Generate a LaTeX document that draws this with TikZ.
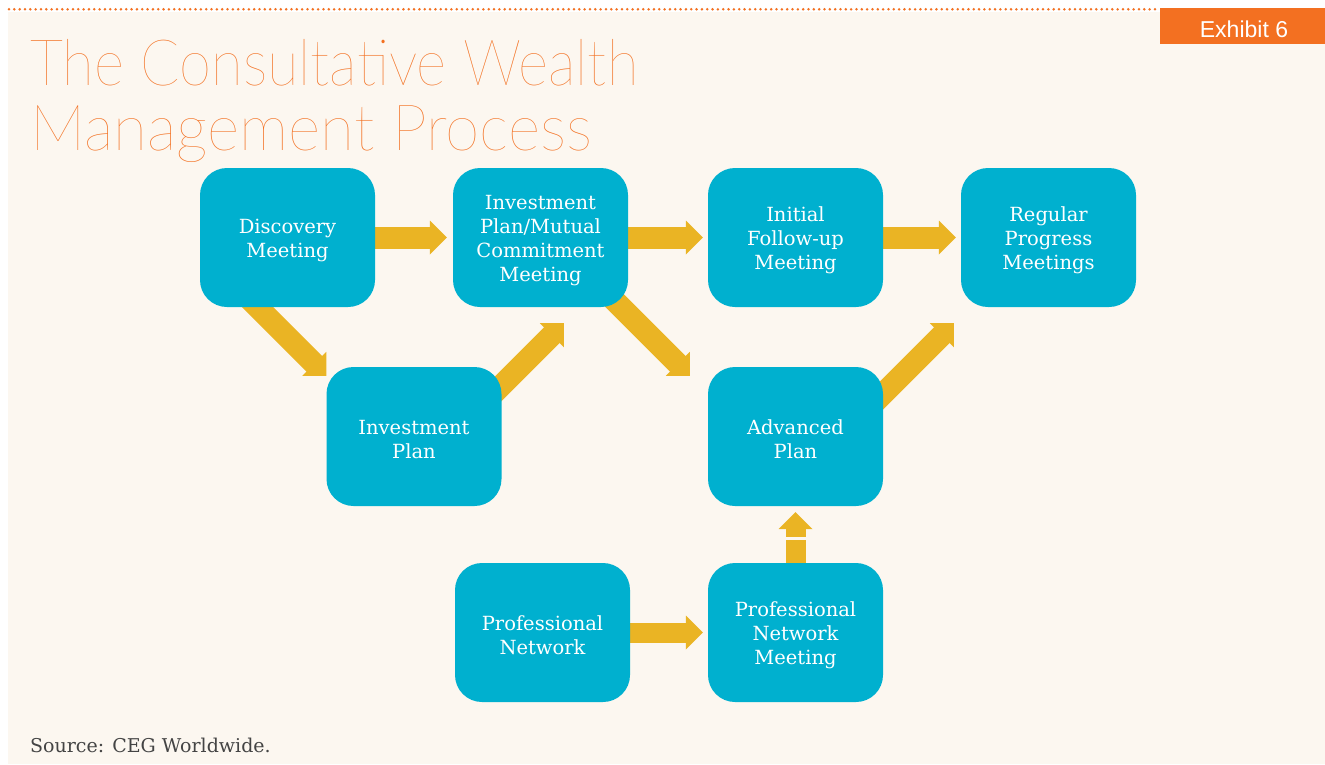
\documentclass[tikz,border=0pt]{standalone}
\usepackage{fontspec}
\setmainfont{DejaVu Serif}
\IfFontExistsTF{Lato Thin}{\newfontfamily\titlefont{Lato Thin}}{%
 \IfFontExistsTF{Fira Sans ExtraLight}{\newfontfamily\titlefont{Fira Sans ExtraLight}}{%
  \IfFontExistsTF{Fira Sans Light}{\newfontfamily\titlefont{Fira Sans Light}}{%
   \IfFontExistsTF{Lato Light}{\newfontfamily\titlefont{Lato Light}}{%
    \newfontfamily\titlefont{Liberation Sans}}}}}
\newfontfamily\exfont{Liberation Sans}
\usetikzlibrary{calc}
\definecolor{cream}{HTML}{FCF7F0}
\definecolor{orng}{HTML}{F37021}
\definecolor{boxblue}{HTML}{00B0CF}
\definecolor{gold}{HTML}{EAB424}
\definecolor{srcgray}{HTML}{444444}
\pgfdeclarelayer{back}
\pgfdeclarelayer{bg}
\pgfsetlayers{back,bg,main}
\newcommand\stagestrut{\rule{0pt}{21pt}}
% #1 start, #2 tip, #3 shaft width, #4 head half width
\newcommand\fatarrow[4]{%
  \path ($(#2)!17pt!(#1)$) coordinate (faB);
  \draw[gold, line width=#3] (#1) -- ($(faB)!-0.5pt!(#1)$);
  \fill[gold] (#2) -- ($(faB)!#4!90:(#2)$) -- ($(faB)!#4!-90:(#2)$) -- cycle;
}
\begin{document}
\begin{tikzpicture}[x=1pt,y=-1pt,
  stage/.style={rectangle, rounded corners=27pt, fill=boxblue, minimum width=175pt,
    minimum height=139pt, inner sep=0pt, align=center, text=white,
    font=\fontsize{19.5}{24}\selectfont},
  titletext/.style={anchor=base west, inner sep=0pt, text=orng,
    font=\titlefont\fontsize{64}{64}\selectfont},
]
\useasboundingbox (0,0) rectangle (1325,764);
\begin{pgfonlayer}{back}
\fill[white] (0,0) rectangle (1325,764);
\fill[cream] (8,12) rectangle (1325,764);
\draw[orng, line width=2.8pt, line cap=round, dash pattern=on 0pt off 5.33pt] (9,9.3) -- (1160,9.3);
\fill[orng] (1160,8) rectangle (1325,44);
\end{pgfonlayer}
\node[anchor=base, inner sep=0pt, text=white, font=\exfont\fontsize{23}{23}\selectfont] (exh) at (1244,37) {Exhibit 6};

\node[titletext] (t1) at (30,85) {\scalebox{0.905}[1]{The Consultative Wealth}};
\node[titletext] (t2) at (30,150) {\scalebox{0.97}[1]{Management Process}};

\node[stage] (disc) at (287.5,237.5) {\stagestrut Discovery\\Meeting};
\node[stage] (ipm) at (540.5,237.5) {\stagestrut Investment\\Plan/Mutual\\Commitment\\Meeting};
\node[stage] (init) at (795.5,237.5) {\stagestrut Initial\\Follow-up\\Meeting};
\node[stage] (reg) at (1048.5,237.5) {\stagestrut Regular\\Progress\\Meetings};
\node[stage] (ip) at (414,436.5) {\stagestrut Investment\\Plan};
\node[stage] (adv) at (795.5,436.5) {\stagestrut Advanced\\Plan};
\node[stage] (pn) at (542.5,632.5) {\stagestrut Professional\\Network};
\node[stage] (pnm) at (795.5,632.5) {\stagestrut Professional\\Network\\Meeting};

\node[anchor=base west, inner sep=0pt, text=srcgray, font=\fontsize{19}{19}\selectfont] (src) at (30,752) {Source: CEG Worldwide.};

\coordinate (e1) at ($(ipm.west)+(-6,0)$);
\coordinate (e2) at ($(init.west)+(-5,0)$);
\coordinate (e3) at ($(reg.west)+(-5,0)$);
\coordinate (e4) at ($(ip.north west)+(0,9)$);
\coordinate (s4) at ($(e4)+(-100,-100)$);
\coordinate (e5) at ($(ipm.south west)+(111,16)$);
\coordinate (s5) at ($(e5)+(-100,100)$);
\coordinate (e6) at ($(adv.north west)+(-18,9)$);
\coordinate (s6) at ($(e6)+(-100,-100)$);
\coordinate (e7) at ($(reg.south west)+(-7,16)$);
\coordinate (s7) at ($(e7)+(-100,100)$);
\coordinate (e8) at ($(pnm.west)+(-5,0)$);
\coordinate (e9) at ($(adv.south)+(0,6)$);

\begin{pgfonlayer}{bg}
\fatarrow{disc.east}{e1}{22pt}{17pt}
\fatarrow{ipm.east}{e2}{22pt}{17pt}
\fatarrow{init.east}{e3}{22pt}{17pt}
\fatarrow{s4}{e4}{22pt}{17pt}
\fatarrow{s5}{e5}{22pt}{17pt}
\fatarrow{s6}{e6}{22pt}{17pt}
\fatarrow{s7}{e7}{22pt}{17pt}
\fatarrow{pn.east}{e8}{20pt}{17pt}
\fatarrow{pnm.north}{e9}{20pt}{17pt}
\fill[cream] ($(pnm.north)+(-14,-25.5)$) rectangle ($(pnm.north)+(14,-22.5)$);
\end{pgfonlayer}
\end{tikzpicture}
\end{document}
